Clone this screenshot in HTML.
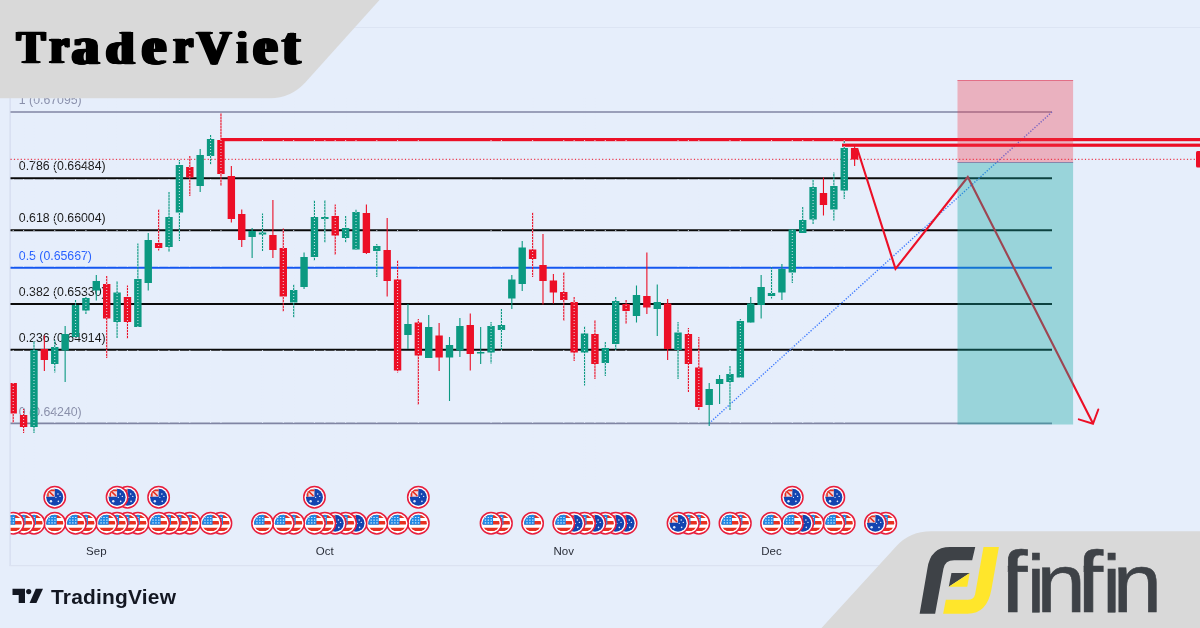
<!DOCTYPE html>
<html lang="en"><head><meta charset="utf-8"><title>TraderViet chart</title>
<style>
html,body{margin:0;padding:0;}html{width:1200px;height:628px;overflow:hidden;}
body{width:1200px;height:628px;overflow:hidden;background:#E6EEFB;position:relative;font-family:"Liberation Sans",Arial,sans-serif;}
svg{position:absolute;left:0;top:0;}
.fib{font-family:"Liberation Sans",Arial,sans-serif;font-size:12.3px;fill:#1a1a1a;}
.mon{font-family:"Liberation Sans",Arial,sans-serif;font-size:11.5px;fill:#2a2e39;text-anchor:middle;}
#tvw{position:absolute;left:51px;top:585.6px;font-family:"Liberation Sans",Arial,sans-serif;font-weight:bold;font-size:19.5px;line-height:22px;color:#131722;white-space:nowrap;letter-spacing:0.2px;transform-origin:0 0;transform:scaleX(1.072);}
</style></head><body>
<svg width="1200" height="628" viewBox="0 0 1200 628">
<clipPath id="fc"><circle cx="0" cy="0" r="8.5"/></clipPath>
<rect x="0" y="27" width="1200" height="1" fill="#DCE4F3"/>
<rect x="9.5" y="97" width="1.2" height="469" fill="#D3DBEE"/>
<rect x="9.5" y="565" width="1200" height="1.2" fill="#DBE2F1"/>
<text class="fib" x="18.8" y="104.2" style="fill:#8A90AB">1 (0.67095)</text>
<text class="fib" x="18.8" y="170.4" style="fill:#1a1a1a">0.786 (0.66484)</text>
<text class="fib" x="18.8" y="222.4" style="fill:#1a1a1a">0.618 (0.66004)</text>
<text class="fib" x="18.8" y="260.0" style="fill:#2962FF">0.5 (0.65667)</text>
<text class="fib" x="18.8" y="296.2" style="fill:#1a1a1a">0.382 (0.65330)</text>
<text class="fib" x="18.8" y="341.9" style="fill:#1a1a1a">0.236 (0.64914)</text>
<text class="fib" x="18.8" y="415.6" style="fill:#8A90AB">0 (0.64240)</text>
<line x1="10.5" y1="112.0" x2="1052.0" y2="112.0" stroke="#8085A3" stroke-width="1.6"/>
<line x1="10.5" y1="178.2" x2="1052.0" y2="178.2" stroke="#0a0a0a" stroke-width="2.0"/>
<line x1="10.5" y1="230.2" x2="1052.0" y2="230.2" stroke="#0a0a0a" stroke-width="2.0"/>
<line x1="10.5" y1="267.8" x2="1052.0" y2="267.8" stroke="#1557F0" stroke-width="2.0"/>
<line x1="10.5" y1="304.0" x2="1052.0" y2="304.0" stroke="#0a0a0a" stroke-width="2.0"/>
<line x1="10.5" y1="349.7" x2="1052.0" y2="349.7" stroke="#0a0a0a" stroke-width="2.0"/>
<line x1="10.5" y1="423.4" x2="1052.0" y2="423.4" stroke="#8085A3" stroke-width="1.6"/>
<line x1="10.5" y1="159.3" x2="1200" y2="159.3" stroke="#EC0F26" stroke-width="1" stroke-dasharray="1.2 2.2"/>
<line x1="709" y1="423.4" x2="1052" y2="112" stroke="#3F7BFF" stroke-width="1.4" stroke-dasharray="1.3 1.5"/>
<clipPath id="ck"><rect x="10.6" y="0" width="1200" height="628"/></clipPath><g clip-path="url(#ck)">
<rect x="12.65" y="383.0" width="1.1" height="40.0" fill="#EC0F26"/>
<rect x="9.50" y="383.0" width="7.4" height="30.5" fill="#EC0F26"/>
<rect x="23.04" y="409.0" width="1.1" height="24.0" fill="#EC0F26"/>
<rect x="19.89" y="415.0" width="7.4" height="12.0" fill="#EC0F26"/>
<rect x="33.43" y="341.0" width="1.1" height="92.0" fill="#0B9981"/>
<rect x="30.28" y="350.0" width="7.4" height="77.0" fill="#0B9981"/>
<rect x="43.81" y="335.5" width="1.1" height="35.5" fill="#EC0F26"/>
<rect x="40.66" y="349.0" width="7.4" height="11.0" fill="#EC0F26"/>
<rect x="54.20" y="340.0" width="1.1" height="32.5" fill="#0B9981"/>
<rect x="51.05" y="347.0" width="7.4" height="17.0" fill="#0B9981"/>
<rect x="64.59" y="326.0" width="1.1" height="56.0" fill="#0B9981"/>
<rect x="61.44" y="334.0" width="7.4" height="16.5" fill="#0B9981"/>
<rect x="74.98" y="300.0" width="1.1" height="37.0" fill="#0B9981"/>
<rect x="71.83" y="305.0" width="7.4" height="32.0" fill="#0B9981"/>
<rect x="85.37" y="297.0" width="1.1" height="17.0" fill="#0B9981"/>
<rect x="82.22" y="298.0" width="7.4" height="12.5" fill="#0B9981"/>
<rect x="95.75" y="275.0" width="1.1" height="25.5" fill="#0B9981"/>
<rect x="92.60" y="281.0" width="7.4" height="9.5" fill="#0B9981"/>
<rect x="106.14" y="276.0" width="1.1" height="82.0" fill="#EC0F26"/>
<rect x="102.99" y="284.0" width="7.4" height="34.5" fill="#EC0F26"/>
<rect x="116.53" y="281.0" width="1.1" height="57.0" fill="#0B9981"/>
<rect x="113.38" y="292.5" width="7.4" height="29.5" fill="#0B9981"/>
<rect x="126.92" y="285.5" width="1.1" height="53.5" fill="#EC0F26"/>
<rect x="123.77" y="297.0" width="7.4" height="25.0" fill="#EC0F26"/>
<rect x="137.31" y="243.5" width="1.1" height="83.5" fill="#0B9981"/>
<rect x="134.16" y="279.0" width="7.4" height="48.0" fill="#0B9981"/>
<rect x="147.69" y="233.0" width="1.1" height="57.5" fill="#0B9981"/>
<rect x="144.54" y="240.0" width="7.4" height="43.0" fill="#0B9981"/>
<rect x="158.08" y="209.0" width="1.1" height="41.5" fill="#EC0F26"/>
<rect x="154.93" y="243.0" width="7.4" height="5.0" fill="#EC0F26"/>
<rect x="168.47" y="192.0" width="1.1" height="60.0" fill="#0B9981"/>
<rect x="165.32" y="217.0" width="7.4" height="30.0" fill="#0B9981"/>
<rect x="178.86" y="160.0" width="1.1" height="81.0" fill="#0B9981"/>
<rect x="175.71" y="165.0" width="7.4" height="47.5" fill="#0B9981"/>
<rect x="189.25" y="156.0" width="1.1" height="40.0" fill="#EC0F26"/>
<rect x="186.10" y="167.0" width="7.4" height="10.5" fill="#EC0F26"/>
<rect x="199.63" y="149.0" width="1.1" height="43.0" fill="#0B9981"/>
<rect x="196.48" y="155.0" width="7.4" height="31.0" fill="#0B9981"/>
<rect x="210.02" y="135.0" width="1.1" height="29.5" fill="#0B9981"/>
<rect x="206.87" y="139.0" width="7.4" height="17.0" fill="#0B9981"/>
<rect x="220.41" y="113.0" width="1.1" height="73.0" fill="#EC0F26"/>
<rect x="217.26" y="140.0" width="7.4" height="34.0" fill="#EC0F26"/>
<rect x="230.80" y="166.0" width="1.1" height="56.5" fill="#EC0F26"/>
<rect x="227.65" y="176.0" width="7.4" height="43.0" fill="#EC0F26"/>
<rect x="241.19" y="209.5" width="1.1" height="37.5" fill="#EC0F26"/>
<rect x="238.04" y="214.0" width="7.4" height="26.0" fill="#EC0F26"/>
<rect x="251.57" y="228.0" width="1.1" height="30.0" fill="#0B9981"/>
<rect x="248.42" y="231.0" width="7.4" height="6.0" fill="#0B9981"/>
<rect x="261.96" y="213.5" width="1.1" height="37.5" fill="#0B9981"/>
<rect x="258.81" y="232.5" width="7.4" height="2.0" fill="#0B9981"/>
<rect x="272.35" y="200.0" width="1.1" height="58.0" fill="#EC0F26"/>
<rect x="269.20" y="235.0" width="7.4" height="15.0" fill="#EC0F26"/>
<rect x="282.74" y="228.5" width="1.1" height="83.0" fill="#EC0F26"/>
<rect x="279.59" y="248.0" width="7.4" height="48.5" fill="#EC0F26"/>
<rect x="293.13" y="284.5" width="1.1" height="33.0" fill="#0B9981"/>
<rect x="289.98" y="290.0" width="7.4" height="12.5" fill="#0B9981"/>
<rect x="303.51" y="252.5" width="1.1" height="36.5" fill="#0B9981"/>
<rect x="300.36" y="257.0" width="7.4" height="30.0" fill="#0B9981"/>
<rect x="313.90" y="200.0" width="1.1" height="61.0" fill="#0B9981"/>
<rect x="310.75" y="217.0" width="7.4" height="40.0" fill="#0B9981"/>
<rect x="324.29" y="200.0" width="1.1" height="42.5" fill="#0B9981"/>
<rect x="321.14" y="217.0" width="7.4" height="2.0" fill="#0B9981"/>
<rect x="334.68" y="204.5" width="1.1" height="50.5" fill="#EC0F26"/>
<rect x="331.53" y="216.0" width="7.4" height="19.5" fill="#EC0F26"/>
<rect x="345.07" y="216.0" width="1.1" height="26.5" fill="#0B9981"/>
<rect x="341.92" y="228.0" width="7.4" height="10.0" fill="#0B9981"/>
<rect x="355.45" y="209.5" width="1.1" height="40.0" fill="#0B9981"/>
<rect x="352.30" y="212.0" width="7.4" height="37.5" fill="#0B9981"/>
<rect x="365.84" y="204.5" width="1.1" height="49.5" fill="#EC0F26"/>
<rect x="362.69" y="213.0" width="7.4" height="40.0" fill="#EC0F26"/>
<rect x="376.23" y="244.0" width="1.1" height="33.0" fill="#0B9981"/>
<rect x="373.08" y="246.0" width="7.4" height="5.0" fill="#0B9981"/>
<rect x="386.62" y="218.0" width="1.1" height="78.5" fill="#EC0F26"/>
<rect x="383.47" y="250.0" width="7.4" height="31.0" fill="#EC0F26"/>
<rect x="397.01" y="260.0" width="1.1" height="112.5" fill="#EC0F26"/>
<rect x="393.86" y="279.5" width="7.4" height="91.0" fill="#EC0F26"/>
<rect x="407.39" y="304.0" width="1.1" height="45.0" fill="#0B9981"/>
<rect x="404.24" y="324.0" width="7.4" height="11.0" fill="#0B9981"/>
<rect x="417.78" y="319.0" width="1.1" height="86.0" fill="#EC0F26"/>
<rect x="414.63" y="322.5" width="7.4" height="33.0" fill="#EC0F26"/>
<rect x="428.17" y="315.0" width="1.1" height="43.0" fill="#0B9981"/>
<rect x="425.02" y="327.0" width="7.4" height="31.0" fill="#0B9981"/>
<rect x="438.56" y="323.0" width="1.1" height="48.0" fill="#EC0F26"/>
<rect x="435.41" y="335.5" width="7.4" height="22.0" fill="#EC0F26"/>
<rect x="448.95" y="337.0" width="1.1" height="64.0" fill="#0B9981"/>
<rect x="445.80" y="345.0" width="7.4" height="12.5" fill="#0B9981"/>
<rect x="459.33" y="318.0" width="1.1" height="39.0" fill="#0B9981"/>
<rect x="456.18" y="326.0" width="7.4" height="24.5" fill="#0B9981"/>
<rect x="469.72" y="313.5" width="1.1" height="57.0" fill="#EC0F26"/>
<rect x="466.57" y="325.0" width="7.4" height="29.0" fill="#EC0F26"/>
<rect x="480.11" y="327.0" width="1.1" height="37.0" fill="#0B9981"/>
<rect x="476.96" y="352.0" width="7.4" height="1.5" fill="#0B9981"/>
<rect x="490.50" y="322.0" width="1.1" height="41.5" fill="#0B9981"/>
<rect x="487.35" y="326.0" width="7.4" height="26.5" fill="#0B9981"/>
<rect x="500.89" y="309.0" width="1.1" height="41.0" fill="#0B9981"/>
<rect x="497.74" y="325.0" width="7.4" height="5.0" fill="#0B9981"/>
<rect x="511.27" y="275.0" width="1.1" height="34.0" fill="#0B9981"/>
<rect x="508.12" y="279.5" width="7.4" height="19.0" fill="#0B9981"/>
<rect x="521.66" y="241.0" width="1.1" height="50.0" fill="#0B9981"/>
<rect x="518.51" y="247.5" width="7.4" height="36.5" fill="#0B9981"/>
<rect x="532.05" y="212.5" width="1.1" height="64.5" fill="#EC0F26"/>
<rect x="528.90" y="249.5" width="7.4" height="9.5" fill="#EC0F26"/>
<rect x="542.44" y="234.0" width="1.1" height="70.5" fill="#EC0F26"/>
<rect x="539.29" y="265.0" width="7.4" height="16.0" fill="#EC0F26"/>
<rect x="552.83" y="274.0" width="1.1" height="29.5" fill="#EC0F26"/>
<rect x="549.68" y="280.5" width="7.4" height="12.0" fill="#EC0F26"/>
<rect x="563.21" y="272.0" width="1.1" height="49.0" fill="#EC0F26"/>
<rect x="560.06" y="292.0" width="7.4" height="8.0" fill="#EC0F26"/>
<rect x="573.60" y="297.0" width="1.1" height="64.0" fill="#EC0F26"/>
<rect x="570.45" y="302.0" width="7.4" height="50.5" fill="#EC0F26"/>
<rect x="583.99" y="326.0" width="1.1" height="59.5" fill="#0B9981"/>
<rect x="580.84" y="333.5" width="7.4" height="19.0" fill="#0B9981"/>
<rect x="594.38" y="320.0" width="1.1" height="59.0" fill="#EC0F26"/>
<rect x="591.23" y="334.0" width="7.4" height="30.0" fill="#EC0F26"/>
<rect x="604.77" y="342.0" width="1.1" height="34.0" fill="#0B9981"/>
<rect x="601.62" y="348.0" width="7.4" height="15.0" fill="#0B9981"/>
<rect x="615.15" y="297.0" width="1.1" height="53.0" fill="#0B9981"/>
<rect x="612.00" y="301.0" width="7.4" height="43.0" fill="#0B9981"/>
<rect x="625.54" y="300.0" width="1.1" height="24.0" fill="#EC0F26"/>
<rect x="622.39" y="304.0" width="7.4" height="7.0" fill="#EC0F26"/>
<rect x="635.93" y="285.5" width="1.1" height="37.0" fill="#0B9981"/>
<rect x="632.78" y="295.0" width="7.4" height="21.0" fill="#0B9981"/>
<rect x="646.32" y="252.5" width="1.1" height="61.5" fill="#EC0F26"/>
<rect x="643.17" y="296.0" width="7.4" height="11.5" fill="#EC0F26"/>
<rect x="656.71" y="284.5" width="1.1" height="51.5" fill="#0B9981"/>
<rect x="653.56" y="302.0" width="7.4" height="7.0" fill="#0B9981"/>
<rect x="667.09" y="299.0" width="1.1" height="61.0" fill="#EC0F26"/>
<rect x="663.94" y="303.5" width="7.4" height="45.5" fill="#EC0F26"/>
<rect x="677.48" y="322.0" width="1.1" height="57.0" fill="#0B9981"/>
<rect x="674.33" y="332.5" width="7.4" height="17.5" fill="#0B9981"/>
<rect x="687.87" y="328.0" width="1.1" height="64.0" fill="#EC0F26"/>
<rect x="684.72" y="334.0" width="7.4" height="30.0" fill="#EC0F26"/>
<rect x="698.26" y="337.0" width="1.1" height="73.0" fill="#EC0F26"/>
<rect x="695.11" y="367.5" width="7.4" height="39.5" fill="#EC0F26"/>
<rect x="708.65" y="383.0" width="1.1" height="43.0" fill="#0B9981"/>
<rect x="705.50" y="389.0" width="7.4" height="16.0" fill="#0B9981"/>
<rect x="719.03" y="375.0" width="1.1" height="29.0" fill="#0B9981"/>
<rect x="715.88" y="379.0" width="7.4" height="5.0" fill="#0B9981"/>
<rect x="729.42" y="366.0" width="1.1" height="44.0" fill="#0B9981"/>
<rect x="726.27" y="374.0" width="7.4" height="8.0" fill="#0B9981"/>
<rect x="739.81" y="319.0" width="1.1" height="58.5" fill="#0B9981"/>
<rect x="736.66" y="321.0" width="7.4" height="56.5" fill="#0B9981"/>
<rect x="750.20" y="297.0" width="1.1" height="25.5" fill="#0B9981"/>
<rect x="747.05" y="303.5" width="7.4" height="19.0" fill="#0B9981"/>
<rect x="760.59" y="275.0" width="1.1" height="43.5" fill="#0B9981"/>
<rect x="757.44" y="287.0" width="7.4" height="18.0" fill="#0B9981"/>
<rect x="770.97" y="267.5" width="1.1" height="31.0" fill="#0B9981"/>
<rect x="767.82" y="293.0" width="7.4" height="3.0" fill="#0B9981"/>
<rect x="781.36" y="264.0" width="1.1" height="36.0" fill="#0B9981"/>
<rect x="778.21" y="269.0" width="7.4" height="23.5" fill="#0B9981"/>
<rect x="791.75" y="229.5" width="1.1" height="53.5" fill="#0B9981"/>
<rect x="788.60" y="229.5" width="7.4" height="43.0" fill="#0B9981"/>
<rect x="802.14" y="207.0" width="1.1" height="26.0" fill="#0B9981"/>
<rect x="798.99" y="220.0" width="7.4" height="13.0" fill="#0B9981"/>
<rect x="812.53" y="179.0" width="1.1" height="45.0" fill="#0B9981"/>
<rect x="809.38" y="187.0" width="7.4" height="32.5" fill="#0B9981"/>
<rect x="822.91" y="177.5" width="1.1" height="38.0" fill="#EC0F26"/>
<rect x="819.76" y="193.0" width="7.4" height="12.0" fill="#EC0F26"/>
<rect x="833.30" y="172.5" width="1.1" height="48.0" fill="#0B9981"/>
<rect x="830.15" y="186.0" width="7.4" height="23.5" fill="#0B9981"/>
<rect x="843.69" y="139.0" width="1.1" height="60.0" fill="#0B9981"/>
<rect x="840.54" y="148.0" width="7.4" height="42.5" fill="#0B9981"/>
<rect x="854.08" y="145.5" width="1.1" height="20.5" fill="#EC0F26"/>
<rect x="850.93" y="148.0" width="7.4" height="11.5" fill="#EC0F26"/>
</g>
<rect x="221" y="138" width="979" height="3.2" fill="#EC0F26"/>
<rect x="842" y="143.6" width="358" height="3.2" fill="#EC0F26"/>
<rect x="1196" y="151" width="6" height="16.5" rx="1.5" fill="#EC0F26"/>
<polyline points="857.5,149.5 895.5,268.8 967.8,177 1093,423.6" fill="none" stroke="#EC0F26" stroke-width="2.1" stroke-linejoin="miter"/>
<polyline points="1078.8,419.4 1093,423.8 1098.3,409.5" fill="none" stroke="#EC0F26" stroke-width="2" stroke-linecap="round"/>
<rect x="957.5" y="80" width="115.6" height="82.5" fill="#F23645" fill-opacity="0.33"/>
<rect x="957.5" y="162.5" width="115.6" height="262" fill="#10A5A0" fill-opacity="0.36"/>
<rect x="957.5" y="80" width="115.6" height="0.8" fill="#E0607A"/>
<rect x="957.5" y="162" width="115.6" height="0.9" fill="#7F7FA6"/>
<line x1="13.20" y1="98" x2="13.20" y2="480" stroke="#E6EEFB" stroke-width="1.1" stroke-dasharray="1 2" stroke-opacity="0.8"/>
<line x1="23.59" y1="98" x2="23.59" y2="480" stroke="#E6EEFB" stroke-width="1.1" stroke-dasharray="1 2" stroke-opacity="0.8"/>
<line x1="33.98" y1="98" x2="33.98" y2="480" stroke="#E6EEFB" stroke-width="1.1" stroke-dasharray="1 2" stroke-opacity="0.8"/>
<line x1="54.75" y1="98" x2="54.75" y2="480" stroke="#E6EEFB" stroke-width="1.1" stroke-dasharray="1 2" stroke-opacity="0.8"/>
<line x1="75.53" y1="98" x2="75.53" y2="480" stroke="#E6EEFB" stroke-width="1.1" stroke-dasharray="1 2" stroke-opacity="0.8"/>
<line x1="85.92" y1="98" x2="85.92" y2="480" stroke="#E6EEFB" stroke-width="1.1" stroke-dasharray="1 2" stroke-opacity="0.8"/>
<line x1="106.69" y1="98" x2="106.69" y2="480" stroke="#E6EEFB" stroke-width="1.1" stroke-dasharray="1 2" stroke-opacity="0.8"/>
<line x1="117.08" y1="98" x2="117.08" y2="480" stroke="#E6EEFB" stroke-width="1.1" stroke-dasharray="1 2" stroke-opacity="0.8"/>
<line x1="127.47" y1="98" x2="127.47" y2="480" stroke="#E6EEFB" stroke-width="1.1" stroke-dasharray="1 2" stroke-opacity="0.8"/>
<line x1="137.86" y1="98" x2="137.86" y2="480" stroke="#E6EEFB" stroke-width="1.1" stroke-dasharray="1 2" stroke-opacity="0.8"/>
<line x1="158.63" y1="98" x2="158.63" y2="480" stroke="#E6EEFB" stroke-width="1.1" stroke-dasharray="1 2" stroke-opacity="0.8"/>
<line x1="169.02" y1="98" x2="169.02" y2="480" stroke="#E6EEFB" stroke-width="1.1" stroke-dasharray="1 2" stroke-opacity="0.8"/>
<line x1="179.41" y1="98" x2="179.41" y2="480" stroke="#E6EEFB" stroke-width="1.1" stroke-dasharray="1 2" stroke-opacity="0.8"/>
<line x1="189.80" y1="98" x2="189.80" y2="480" stroke="#E6EEFB" stroke-width="1.1" stroke-dasharray="1 2" stroke-opacity="0.8"/>
<line x1="210.57" y1="98" x2="210.57" y2="480" stroke="#E6EEFB" stroke-width="1.1" stroke-dasharray="1 2" stroke-opacity="0.8"/>
<line x1="220.96" y1="98" x2="220.96" y2="480" stroke="#E6EEFB" stroke-width="1.1" stroke-dasharray="1 2" stroke-opacity="0.8"/>
<line x1="262.51" y1="98" x2="262.51" y2="480" stroke="#E6EEFB" stroke-width="1.1" stroke-dasharray="1 2" stroke-opacity="0.8"/>
<line x1="283.29" y1="98" x2="283.29" y2="480" stroke="#E6EEFB" stroke-width="1.1" stroke-dasharray="1 2" stroke-opacity="0.8"/>
<line x1="293.68" y1="98" x2="293.68" y2="480" stroke="#E6EEFB" stroke-width="1.1" stroke-dasharray="1 2" stroke-opacity="0.8"/>
<line x1="314.45" y1="98" x2="314.45" y2="480" stroke="#E6EEFB" stroke-width="1.1" stroke-dasharray="1 2" stroke-opacity="0.8"/>
<line x1="324.84" y1="98" x2="324.84" y2="480" stroke="#E6EEFB" stroke-width="1.1" stroke-dasharray="1 2" stroke-opacity="0.8"/>
<line x1="335.23" y1="98" x2="335.23" y2="480" stroke="#E6EEFB" stroke-width="1.1" stroke-dasharray="1 2" stroke-opacity="0.8"/>
<line x1="345.62" y1="98" x2="345.62" y2="480" stroke="#E6EEFB" stroke-width="1.1" stroke-dasharray="1 2" stroke-opacity="0.8"/>
<line x1="356.00" y1="98" x2="356.00" y2="480" stroke="#E6EEFB" stroke-width="1.1" stroke-dasharray="1 2" stroke-opacity="0.8"/>
<line x1="376.78" y1="98" x2="376.78" y2="480" stroke="#E6EEFB" stroke-width="1.1" stroke-dasharray="1 2" stroke-opacity="0.8"/>
<line x1="397.56" y1="98" x2="397.56" y2="480" stroke="#E6EEFB" stroke-width="1.1" stroke-dasharray="1 2" stroke-opacity="0.8"/>
<line x1="418.33" y1="98" x2="418.33" y2="480" stroke="#E6EEFB" stroke-width="1.1" stroke-dasharray="1 2" stroke-opacity="0.8"/>
<line x1="491.05" y1="98" x2="491.05" y2="480" stroke="#E6EEFB" stroke-width="1.1" stroke-dasharray="1 2" stroke-opacity="0.8"/>
<line x1="501.44" y1="98" x2="501.44" y2="480" stroke="#E6EEFB" stroke-width="1.1" stroke-dasharray="1 2" stroke-opacity="0.8"/>
<line x1="532.60" y1="98" x2="532.60" y2="480" stroke="#E6EEFB" stroke-width="1.1" stroke-dasharray="1 2" stroke-opacity="0.8"/>
<line x1="563.76" y1="98" x2="563.76" y2="480" stroke="#E6EEFB" stroke-width="1.1" stroke-dasharray="1 2" stroke-opacity="0.8"/>
<line x1="574.15" y1="98" x2="574.15" y2="480" stroke="#E6EEFB" stroke-width="1.1" stroke-dasharray="1 2" stroke-opacity="0.8"/>
<line x1="584.54" y1="98" x2="584.54" y2="480" stroke="#E6EEFB" stroke-width="1.1" stroke-dasharray="1 2" stroke-opacity="0.8"/>
<line x1="594.93" y1="98" x2="594.93" y2="480" stroke="#E6EEFB" stroke-width="1.1" stroke-dasharray="1 2" stroke-opacity="0.8"/>
<line x1="605.32" y1="98" x2="605.32" y2="480" stroke="#E6EEFB" stroke-width="1.1" stroke-dasharray="1 2" stroke-opacity="0.8"/>
<line x1="615.70" y1="98" x2="615.70" y2="480" stroke="#E6EEFB" stroke-width="1.1" stroke-dasharray="1 2" stroke-opacity="0.8"/>
<line x1="626.09" y1="98" x2="626.09" y2="480" stroke="#E6EEFB" stroke-width="1.1" stroke-dasharray="1 2" stroke-opacity="0.8"/>
<line x1="678.03" y1="98" x2="678.03" y2="480" stroke="#E6EEFB" stroke-width="1.1" stroke-dasharray="1 2" stroke-opacity="0.8"/>
<line x1="688.42" y1="98" x2="688.42" y2="480" stroke="#E6EEFB" stroke-width="1.1" stroke-dasharray="1 2" stroke-opacity="0.8"/>
<line x1="698.81" y1="98" x2="698.81" y2="480" stroke="#E6EEFB" stroke-width="1.1" stroke-dasharray="1 2" stroke-opacity="0.8"/>
<line x1="729.97" y1="98" x2="729.97" y2="480" stroke="#E6EEFB" stroke-width="1.1" stroke-dasharray="1 2" stroke-opacity="0.8"/>
<line x1="740.36" y1="98" x2="740.36" y2="480" stroke="#E6EEFB" stroke-width="1.1" stroke-dasharray="1 2" stroke-opacity="0.8"/>
<line x1="771.52" y1="98" x2="771.52" y2="480" stroke="#E6EEFB" stroke-width="1.1" stroke-dasharray="1 2" stroke-opacity="0.8"/>
<line x1="792.30" y1="98" x2="792.30" y2="480" stroke="#E6EEFB" stroke-width="1.1" stroke-dasharray="1 2" stroke-opacity="0.8"/>
<line x1="802.69" y1="98" x2="802.69" y2="480" stroke="#E6EEFB" stroke-width="1.1" stroke-dasharray="1 2" stroke-opacity="0.8"/>
<line x1="813.08" y1="98" x2="813.08" y2="480" stroke="#E6EEFB" stroke-width="1.1" stroke-dasharray="1 2" stroke-opacity="0.8"/>
<line x1="833.85" y1="98" x2="833.85" y2="480" stroke="#E6EEFB" stroke-width="1.1" stroke-dasharray="1 2" stroke-opacity="0.8"/>
<line x1="844.24" y1="98" x2="844.24" y2="480" stroke="#E6EEFB" stroke-width="1.1" stroke-dasharray="1 2" stroke-opacity="0.8"/>
<clipPath id="cc"><rect x="10.6" y="480" width="1200" height="60"/></clipPath>
<g clip-path="url(#cc)">
<g transform="translate(885.79,523.2)"><circle r="10.7" fill="#fff" stroke="#E81E3C" stroke-width="1.5"/><g clip-path="url(#fc)"><path d="M-9,-7H9M-9,-0.4H9M-9,6.2H9" stroke="#E8311F" stroke-width="3.4"/><path d="M-9,-9H2V1.6H-9Z" fill="#1E88E5"/><path d="M-6.3,-5.7H1M-6.3,-3H1M-6.3,-0.3H1" stroke="#cfe6fb" stroke-width="1.2" stroke-dasharray="1.4 1.5"/></g></g>
<g transform="translate(875.40,523.2)"><circle r="10.7" fill="#fff" stroke="#E81E3C" stroke-width="1.5"/><g clip-path="url(#fc)"><path d="M-9,-9H9V9H-9Z" fill="#1344B0"/><path d="M-9,-9H0V-0.5H-9Z" fill="#f2d6dc"/><path d="M-9,-6.8H0M-6.8,-9V-0.5M-6,-6L-1,-1.2" stroke="#E8311F" stroke-width="1.6" fill="none"/><g fill="#dfe8fa"><circle cx="-3.8" cy="4" r="1.2"/><circle cx="3.2" cy="-3.2" r="0.8"/><circle cx="5.3" cy="-0.8" r="0.7"/><circle cx="3.6" cy="4.2" r="0.8"/><circle cx="1.2" cy="0.2" r="0.6"/></g></g></g>
<g transform="translate(844.24,523.2)"><circle r="10.7" fill="#fff" stroke="#E81E3C" stroke-width="1.5"/><g clip-path="url(#fc)"><path d="M-9,-7H9M-9,-0.4H9M-9,6.2H9" stroke="#E8311F" stroke-width="3.4"/><path d="M-9,-9H2V1.6H-9Z" fill="#1E88E5"/><path d="M-6.3,-5.7H1M-6.3,-3H1M-6.3,-0.3H1" stroke="#cfe6fb" stroke-width="1.2" stroke-dasharray="1.4 1.5"/></g></g>
<g transform="translate(833.85,523.2)"><circle r="10.7" fill="#fff" stroke="#E81E3C" stroke-width="1.5"/><g clip-path="url(#fc)"><path d="M-9,-7H9M-9,-0.4H9M-9,6.2H9" stroke="#E8311F" stroke-width="3.4"/><path d="M-9,-9H2V1.6H-9Z" fill="#1E88E5"/><path d="M-6.3,-5.7H1M-6.3,-3H1M-6.3,-0.3H1" stroke="#cfe6fb" stroke-width="1.2" stroke-dasharray="1.4 1.5"/></g></g>
<g transform="translate(813.08,523.2)"><circle r="10.7" fill="#fff" stroke="#E81E3C" stroke-width="1.5"/><g clip-path="url(#fc)"><path d="M-9,-7H9M-9,-0.4H9M-9,6.2H9" stroke="#E8311F" stroke-width="3.4"/><path d="M-9,-9H2V1.6H-9Z" fill="#1E88E5"/><path d="M-6.3,-5.7H1M-6.3,-3H1M-6.3,-0.3H1" stroke="#cfe6fb" stroke-width="1.2" stroke-dasharray="1.4 1.5"/></g></g>
<g transform="translate(802.69,523.2)"><circle r="10.7" fill="#fff" stroke="#E81E3C" stroke-width="1.5"/><g clip-path="url(#fc)"><path d="M-9,-9H9V9H-9Z" fill="#1344B0"/><path d="M-9,-9H0V-0.5H-9Z" fill="#f2d6dc"/><path d="M-9,-6.8H0M-6.8,-9V-0.5M-6,-6L-1,-1.2" stroke="#E8311F" stroke-width="1.6" fill="none"/><g fill="#dfe8fa"><circle cx="-3.8" cy="4" r="1.2"/><circle cx="3.2" cy="-3.2" r="0.8"/><circle cx="5.3" cy="-0.8" r="0.7"/><circle cx="3.6" cy="4.2" r="0.8"/><circle cx="1.2" cy="0.2" r="0.6"/></g></g></g>
<g transform="translate(792.30,523.2)"><circle r="10.7" fill="#fff" stroke="#E81E3C" stroke-width="1.5"/><g clip-path="url(#fc)"><path d="M-9,-7H9M-9,-0.4H9M-9,6.2H9" stroke="#E8311F" stroke-width="3.4"/><path d="M-9,-9H2V1.6H-9Z" fill="#1E88E5"/><path d="M-6.3,-5.7H1M-6.3,-3H1M-6.3,-0.3H1" stroke="#cfe6fb" stroke-width="1.2" stroke-dasharray="1.4 1.5"/></g></g>
<g transform="translate(771.52,523.2)"><circle r="10.7" fill="#fff" stroke="#E81E3C" stroke-width="1.5"/><g clip-path="url(#fc)"><path d="M-9,-7H9M-9,-0.4H9M-9,6.2H9" stroke="#E8311F" stroke-width="3.4"/><path d="M-9,-9H2V1.6H-9Z" fill="#1E88E5"/><path d="M-6.3,-5.7H1M-6.3,-3H1M-6.3,-0.3H1" stroke="#cfe6fb" stroke-width="1.2" stroke-dasharray="1.4 1.5"/></g></g>
<g transform="translate(740.36,523.2)"><circle r="10.7" fill="#fff" stroke="#E81E3C" stroke-width="1.5"/><g clip-path="url(#fc)"><path d="M-9,-7H9M-9,-0.4H9M-9,6.2H9" stroke="#E8311F" stroke-width="3.4"/><path d="M-9,-9H2V1.6H-9Z" fill="#1E88E5"/><path d="M-6.3,-5.7H1M-6.3,-3H1M-6.3,-0.3H1" stroke="#cfe6fb" stroke-width="1.2" stroke-dasharray="1.4 1.5"/></g></g>
<g transform="translate(729.97,523.2)"><circle r="10.7" fill="#fff" stroke="#E81E3C" stroke-width="1.5"/><g clip-path="url(#fc)"><path d="M-9,-7H9M-9,-0.4H9M-9,6.2H9" stroke="#E8311F" stroke-width="3.4"/><path d="M-9,-9H2V1.6H-9Z" fill="#1E88E5"/><path d="M-6.3,-5.7H1M-6.3,-3H1M-6.3,-0.3H1" stroke="#cfe6fb" stroke-width="1.2" stroke-dasharray="1.4 1.5"/></g></g>
<g transform="translate(698.81,523.2)"><circle r="10.7" fill="#fff" stroke="#E81E3C" stroke-width="1.5"/><g clip-path="url(#fc)"><path d="M-9,-7H9M-9,-0.4H9M-9,6.2H9" stroke="#E8311F" stroke-width="3.4"/><path d="M-9,-9H2V1.6H-9Z" fill="#1E88E5"/><path d="M-6.3,-5.7H1M-6.3,-3H1M-6.3,-0.3H1" stroke="#cfe6fb" stroke-width="1.2" stroke-dasharray="1.4 1.5"/></g></g>
<g transform="translate(688.42,523.2)"><circle r="10.7" fill="#fff" stroke="#E81E3C" stroke-width="1.5"/><g clip-path="url(#fc)"><path d="M-9,-7H9M-9,-0.4H9M-9,6.2H9" stroke="#E8311F" stroke-width="3.4"/><path d="M-9,-9H2V1.6H-9Z" fill="#1E88E5"/><path d="M-6.3,-5.7H1M-6.3,-3H1M-6.3,-0.3H1" stroke="#cfe6fb" stroke-width="1.2" stroke-dasharray="1.4 1.5"/></g></g>
<g transform="translate(678.03,523.2)"><circle r="10.7" fill="#fff" stroke="#E81E3C" stroke-width="1.5"/><g clip-path="url(#fc)"><path d="M-9,-9H9V9H-9Z" fill="#1344B0"/><path d="M-9,-9H0V-0.5H-9Z" fill="#f2d6dc"/><path d="M-9,-6.8H0M-6.8,-9V-0.5M-6,-6L-1,-1.2" stroke="#E8311F" stroke-width="1.6" fill="none"/><g fill="#dfe8fa"><circle cx="-3.8" cy="4" r="1.2"/><circle cx="3.2" cy="-3.2" r="0.8"/><circle cx="5.3" cy="-0.8" r="0.7"/><circle cx="3.6" cy="4.2" r="0.8"/><circle cx="1.2" cy="0.2" r="0.6"/></g></g></g>
<g transform="translate(626.09,523.2)"><circle r="10.7" fill="#fff" stroke="#E81E3C" stroke-width="1.5"/><g clip-path="url(#fc)"><path d="M-9,-9H9V9H-9Z" fill="#1344B0"/><path d="M-9,-9H0V-0.5H-9Z" fill="#f2d6dc"/><path d="M-9,-6.8H0M-6.8,-9V-0.5M-6,-6L-1,-1.2" stroke="#E8311F" stroke-width="1.6" fill="none"/><g fill="#dfe8fa"><circle cx="-3.8" cy="4" r="1.2"/><circle cx="3.2" cy="-3.2" r="0.8"/><circle cx="5.3" cy="-0.8" r="0.7"/><circle cx="3.6" cy="4.2" r="0.8"/><circle cx="1.2" cy="0.2" r="0.6"/></g></g></g>
<g transform="translate(615.70,523.2)"><circle r="10.7" fill="#fff" stroke="#E81E3C" stroke-width="1.5"/><g clip-path="url(#fc)"><path d="M-9,-9H9V9H-9Z" fill="#1344B0"/><path d="M-9,-9H0V-0.5H-9Z" fill="#f2d6dc"/><path d="M-9,-6.8H0M-6.8,-9V-0.5M-6,-6L-1,-1.2" stroke="#E8311F" stroke-width="1.6" fill="none"/><g fill="#dfe8fa"><circle cx="-3.8" cy="4" r="1.2"/><circle cx="3.2" cy="-3.2" r="0.8"/><circle cx="5.3" cy="-0.8" r="0.7"/><circle cx="3.6" cy="4.2" r="0.8"/><circle cx="1.2" cy="0.2" r="0.6"/></g></g></g>
<g transform="translate(605.32,523.2)"><circle r="10.7" fill="#fff" stroke="#E81E3C" stroke-width="1.5"/><g clip-path="url(#fc)"><path d="M-9,-7H9M-9,-0.4H9M-9,6.2H9" stroke="#E8311F" stroke-width="3.4"/><path d="M-9,-9H2V1.6H-9Z" fill="#1E88E5"/><path d="M-6.3,-5.7H1M-6.3,-3H1M-6.3,-0.3H1" stroke="#cfe6fb" stroke-width="1.2" stroke-dasharray="1.4 1.5"/></g></g>
<g transform="translate(594.93,523.2)"><circle r="10.7" fill="#fff" stroke="#E81E3C" stroke-width="1.5"/><g clip-path="url(#fc)"><path d="M-9,-9H9V9H-9Z" fill="#1344B0"/><path d="M-9,-9H0V-0.5H-9Z" fill="#f2d6dc"/><path d="M-9,-6.8H0M-6.8,-9V-0.5M-6,-6L-1,-1.2" stroke="#E8311F" stroke-width="1.6" fill="none"/><g fill="#dfe8fa"><circle cx="-3.8" cy="4" r="1.2"/><circle cx="3.2" cy="-3.2" r="0.8"/><circle cx="5.3" cy="-0.8" r="0.7"/><circle cx="3.6" cy="4.2" r="0.8"/><circle cx="1.2" cy="0.2" r="0.6"/></g></g></g>
<g transform="translate(584.54,523.2)"><circle r="10.7" fill="#fff" stroke="#E81E3C" stroke-width="1.5"/><g clip-path="url(#fc)"><path d="M-9,-7H9M-9,-0.4H9M-9,6.2H9" stroke="#E8311F" stroke-width="3.4"/><path d="M-9,-9H2V1.6H-9Z" fill="#1E88E5"/><path d="M-6.3,-5.7H1M-6.3,-3H1M-6.3,-0.3H1" stroke="#cfe6fb" stroke-width="1.2" stroke-dasharray="1.4 1.5"/></g></g>
<g transform="translate(574.15,523.2)"><circle r="10.7" fill="#fff" stroke="#E81E3C" stroke-width="1.5"/><g clip-path="url(#fc)"><path d="M-9,-9H9V9H-9Z" fill="#1344B0"/><path d="M-9,-9H0V-0.5H-9Z" fill="#f2d6dc"/><path d="M-9,-6.8H0M-6.8,-9V-0.5M-6,-6L-1,-1.2" stroke="#E8311F" stroke-width="1.6" fill="none"/><g fill="#dfe8fa"><circle cx="-3.8" cy="4" r="1.2"/><circle cx="3.2" cy="-3.2" r="0.8"/><circle cx="5.3" cy="-0.8" r="0.7"/><circle cx="3.6" cy="4.2" r="0.8"/><circle cx="1.2" cy="0.2" r="0.6"/></g></g></g>
<g transform="translate(563.76,523.2)"><circle r="10.7" fill="#fff" stroke="#E81E3C" stroke-width="1.5"/><g clip-path="url(#fc)"><path d="M-9,-7H9M-9,-0.4H9M-9,6.2H9" stroke="#E8311F" stroke-width="3.4"/><path d="M-9,-9H2V1.6H-9Z" fill="#1E88E5"/><path d="M-6.3,-5.7H1M-6.3,-3H1M-6.3,-0.3H1" stroke="#cfe6fb" stroke-width="1.2" stroke-dasharray="1.4 1.5"/></g></g>
<g transform="translate(532.60,523.2)"><circle r="10.7" fill="#fff" stroke="#E81E3C" stroke-width="1.5"/><g clip-path="url(#fc)"><path d="M-9,-7H9M-9,-0.4H9M-9,6.2H9" stroke="#E8311F" stroke-width="3.4"/><path d="M-9,-9H2V1.6H-9Z" fill="#1E88E5"/><path d="M-6.3,-5.7H1M-6.3,-3H1M-6.3,-0.3H1" stroke="#cfe6fb" stroke-width="1.2" stroke-dasharray="1.4 1.5"/></g></g>
<g transform="translate(501.44,523.2)"><circle r="10.7" fill="#fff" stroke="#E81E3C" stroke-width="1.5"/><g clip-path="url(#fc)"><path d="M-9,-7H9M-9,-0.4H9M-9,6.2H9" stroke="#E8311F" stroke-width="3.4"/><path d="M-9,-9H2V1.6H-9Z" fill="#1E88E5"/><path d="M-6.3,-5.7H1M-6.3,-3H1M-6.3,-0.3H1" stroke="#cfe6fb" stroke-width="1.2" stroke-dasharray="1.4 1.5"/></g></g>
<g transform="translate(491.05,523.2)"><circle r="10.7" fill="#fff" stroke="#E81E3C" stroke-width="1.5"/><g clip-path="url(#fc)"><path d="M-9,-7H9M-9,-0.4H9M-9,6.2H9" stroke="#E8311F" stroke-width="3.4"/><path d="M-9,-9H2V1.6H-9Z" fill="#1E88E5"/><path d="M-6.3,-5.7H1M-6.3,-3H1M-6.3,-0.3H1" stroke="#cfe6fb" stroke-width="1.2" stroke-dasharray="1.4 1.5"/></g></g>
<g transform="translate(418.33,523.2)"><circle r="10.7" fill="#fff" stroke="#E81E3C" stroke-width="1.5"/><g clip-path="url(#fc)"><path d="M-9,-7H9M-9,-0.4H9M-9,6.2H9" stroke="#E8311F" stroke-width="3.4"/><path d="M-9,-9H2V1.6H-9Z" fill="#1E88E5"/><path d="M-6.3,-5.7H1M-6.3,-3H1M-6.3,-0.3H1" stroke="#cfe6fb" stroke-width="1.2" stroke-dasharray="1.4 1.5"/></g></g>
<g transform="translate(397.56,523.2)"><circle r="10.7" fill="#fff" stroke="#E81E3C" stroke-width="1.5"/><g clip-path="url(#fc)"><path d="M-9,-7H9M-9,-0.4H9M-9,6.2H9" stroke="#E8311F" stroke-width="3.4"/><path d="M-9,-9H2V1.6H-9Z" fill="#1E88E5"/><path d="M-6.3,-5.7H1M-6.3,-3H1M-6.3,-0.3H1" stroke="#cfe6fb" stroke-width="1.2" stroke-dasharray="1.4 1.5"/></g></g>
<g transform="translate(376.78,523.2)"><circle r="10.7" fill="#fff" stroke="#E81E3C" stroke-width="1.5"/><g clip-path="url(#fc)"><path d="M-9,-7H9M-9,-0.4H9M-9,6.2H9" stroke="#E8311F" stroke-width="3.4"/><path d="M-9,-9H2V1.6H-9Z" fill="#1E88E5"/><path d="M-6.3,-5.7H1M-6.3,-3H1M-6.3,-0.3H1" stroke="#cfe6fb" stroke-width="1.2" stroke-dasharray="1.4 1.5"/></g></g>
<g transform="translate(356.00,523.2)"><circle r="10.7" fill="#fff" stroke="#E81E3C" stroke-width="1.5"/><g clip-path="url(#fc)"><path d="M-9,-9H9V9H-9Z" fill="#1344B0"/><path d="M-9,-9H0V-0.5H-9Z" fill="#f2d6dc"/><path d="M-9,-6.8H0M-6.8,-9V-0.5M-6,-6L-1,-1.2" stroke="#E8311F" stroke-width="1.6" fill="none"/><g fill="#dfe8fa"><circle cx="-3.8" cy="4" r="1.2"/><circle cx="3.2" cy="-3.2" r="0.8"/><circle cx="5.3" cy="-0.8" r="0.7"/><circle cx="3.6" cy="4.2" r="0.8"/><circle cx="1.2" cy="0.2" r="0.6"/></g></g></g>
<g transform="translate(345.62,523.2)"><circle r="10.7" fill="#fff" stroke="#E81E3C" stroke-width="1.5"/><g clip-path="url(#fc)"><path d="M-9,-7H9M-9,-0.4H9M-9,6.2H9" stroke="#E8311F" stroke-width="3.4"/><path d="M-9,-9H2V1.6H-9Z" fill="#1E88E5"/><path d="M-6.3,-5.7H1M-6.3,-3H1M-6.3,-0.3H1" stroke="#cfe6fb" stroke-width="1.2" stroke-dasharray="1.4 1.5"/></g></g>
<g transform="translate(335.23,523.2)"><circle r="10.7" fill="#fff" stroke="#E81E3C" stroke-width="1.5"/><g clip-path="url(#fc)"><path d="M-9,-9H9V9H-9Z" fill="#1344B0"/><path d="M-9,-9H0V-0.5H-9Z" fill="#f2d6dc"/><path d="M-9,-6.8H0M-6.8,-9V-0.5M-6,-6L-1,-1.2" stroke="#E8311F" stroke-width="1.6" fill="none"/><g fill="#dfe8fa"><circle cx="-3.8" cy="4" r="1.2"/><circle cx="3.2" cy="-3.2" r="0.8"/><circle cx="5.3" cy="-0.8" r="0.7"/><circle cx="3.6" cy="4.2" r="0.8"/><circle cx="1.2" cy="0.2" r="0.6"/></g></g></g>
<g transform="translate(324.84,523.2)"><circle r="10.7" fill="#fff" stroke="#E81E3C" stroke-width="1.5"/><g clip-path="url(#fc)"><path d="M-9,-7H9M-9,-0.4H9M-9,6.2H9" stroke="#E8311F" stroke-width="3.4"/><path d="M-9,-9H2V1.6H-9Z" fill="#1E88E5"/><path d="M-6.3,-5.7H1M-6.3,-3H1M-6.3,-0.3H1" stroke="#cfe6fb" stroke-width="1.2" stroke-dasharray="1.4 1.5"/></g></g>
<g transform="translate(314.45,523.2)"><circle r="10.7" fill="#fff" stroke="#E81E3C" stroke-width="1.5"/><g clip-path="url(#fc)"><path d="M-9,-7H9M-9,-0.4H9M-9,6.2H9" stroke="#E8311F" stroke-width="3.4"/><path d="M-9,-9H2V1.6H-9Z" fill="#1E88E5"/><path d="M-6.3,-5.7H1M-6.3,-3H1M-6.3,-0.3H1" stroke="#cfe6fb" stroke-width="1.2" stroke-dasharray="1.4 1.5"/></g></g>
<g transform="translate(293.68,523.2)"><circle r="10.7" fill="#fff" stroke="#E81E3C" stroke-width="1.5"/><g clip-path="url(#fc)"><path d="M-9,-7H9M-9,-0.4H9M-9,6.2H9" stroke="#E8311F" stroke-width="3.4"/><path d="M-9,-9H2V1.6H-9Z" fill="#1E88E5"/><path d="M-6.3,-5.7H1M-6.3,-3H1M-6.3,-0.3H1" stroke="#cfe6fb" stroke-width="1.2" stroke-dasharray="1.4 1.5"/></g></g>
<g transform="translate(283.29,523.2)"><circle r="10.7" fill="#fff" stroke="#E81E3C" stroke-width="1.5"/><g clip-path="url(#fc)"><path d="M-9,-7H9M-9,-0.4H9M-9,6.2H9" stroke="#E8311F" stroke-width="3.4"/><path d="M-9,-9H2V1.6H-9Z" fill="#1E88E5"/><path d="M-6.3,-5.7H1M-6.3,-3H1M-6.3,-0.3H1" stroke="#cfe6fb" stroke-width="1.2" stroke-dasharray="1.4 1.5"/></g></g>
<g transform="translate(262.51,523.2)"><circle r="10.7" fill="#fff" stroke="#E81E3C" stroke-width="1.5"/><g clip-path="url(#fc)"><path d="M-9,-7H9M-9,-0.4H9M-9,6.2H9" stroke="#E8311F" stroke-width="3.4"/><path d="M-9,-9H2V1.6H-9Z" fill="#1E88E5"/><path d="M-6.3,-5.7H1M-6.3,-3H1M-6.3,-0.3H1" stroke="#cfe6fb" stroke-width="1.2" stroke-dasharray="1.4 1.5"/></g></g>
<g transform="translate(220.96,523.2)"><circle r="10.7" fill="#fff" stroke="#E81E3C" stroke-width="1.5"/><g clip-path="url(#fc)"><path d="M-9,-7H9M-9,-0.4H9M-9,6.2H9" stroke="#E8311F" stroke-width="3.4"/><path d="M-9,-9H2V1.6H-9Z" fill="#1E88E5"/><path d="M-6.3,-5.7H1M-6.3,-3H1M-6.3,-0.3H1" stroke="#cfe6fb" stroke-width="1.2" stroke-dasharray="1.4 1.5"/></g></g>
<g transform="translate(210.57,523.2)"><circle r="10.7" fill="#fff" stroke="#E81E3C" stroke-width="1.5"/><g clip-path="url(#fc)"><path d="M-9,-7H9M-9,-0.4H9M-9,6.2H9" stroke="#E8311F" stroke-width="3.4"/><path d="M-9,-9H2V1.6H-9Z" fill="#1E88E5"/><path d="M-6.3,-5.7H1M-6.3,-3H1M-6.3,-0.3H1" stroke="#cfe6fb" stroke-width="1.2" stroke-dasharray="1.4 1.5"/></g></g>
<g transform="translate(189.80,523.2)"><circle r="10.7" fill="#fff" stroke="#E81E3C" stroke-width="1.5"/><g clip-path="url(#fc)"><path d="M-9,-7H9M-9,-0.4H9M-9,6.2H9" stroke="#E8311F" stroke-width="3.4"/><path d="M-9,-9H2V1.6H-9Z" fill="#1E88E5"/><path d="M-6.3,-5.7H1M-6.3,-3H1M-6.3,-0.3H1" stroke="#cfe6fb" stroke-width="1.2" stroke-dasharray="1.4 1.5"/></g></g>
<g transform="translate(179.41,523.2)"><circle r="10.7" fill="#fff" stroke="#E81E3C" stroke-width="1.5"/><g clip-path="url(#fc)"><path d="M-9,-7H9M-9,-0.4H9M-9,6.2H9" stroke="#E8311F" stroke-width="3.4"/><path d="M-9,-9H2V1.6H-9Z" fill="#1E88E5"/><path d="M-6.3,-5.7H1M-6.3,-3H1M-6.3,-0.3H1" stroke="#cfe6fb" stroke-width="1.2" stroke-dasharray="1.4 1.5"/></g></g>
<g transform="translate(169.02,523.2)"><circle r="10.7" fill="#fff" stroke="#E81E3C" stroke-width="1.5"/><g clip-path="url(#fc)"><path d="M-9,-7H9M-9,-0.4H9M-9,6.2H9" stroke="#E8311F" stroke-width="3.4"/><path d="M-9,-9H2V1.6H-9Z" fill="#1E88E5"/><path d="M-6.3,-5.7H1M-6.3,-3H1M-6.3,-0.3H1" stroke="#cfe6fb" stroke-width="1.2" stroke-dasharray="1.4 1.5"/></g></g>
<g transform="translate(158.63,523.2)"><circle r="10.7" fill="#fff" stroke="#E81E3C" stroke-width="1.5"/><g clip-path="url(#fc)"><path d="M-9,-7H9M-9,-0.4H9M-9,6.2H9" stroke="#E8311F" stroke-width="3.4"/><path d="M-9,-9H2V1.6H-9Z" fill="#1E88E5"/><path d="M-6.3,-5.7H1M-6.3,-3H1M-6.3,-0.3H1" stroke="#cfe6fb" stroke-width="1.2" stroke-dasharray="1.4 1.5"/></g></g>
<g transform="translate(137.86,523.2)"><circle r="10.7" fill="#fff" stroke="#E81E3C" stroke-width="1.5"/><g clip-path="url(#fc)"><path d="M-9,-7H9M-9,-0.4H9M-9,6.2H9" stroke="#E8311F" stroke-width="3.4"/><path d="M-9,-9H2V1.6H-9Z" fill="#1E88E5"/><path d="M-6.3,-5.7H1M-6.3,-3H1M-6.3,-0.3H1" stroke="#cfe6fb" stroke-width="1.2" stroke-dasharray="1.4 1.5"/></g></g>
<g transform="translate(127.47,523.2)"><circle r="10.7" fill="#fff" stroke="#E81E3C" stroke-width="1.5"/><g clip-path="url(#fc)"><path d="M-9,-7H9M-9,-0.4H9M-9,6.2H9" stroke="#E8311F" stroke-width="3.4"/><path d="M-9,-9H2V1.6H-9Z" fill="#1E88E5"/><path d="M-6.3,-5.7H1M-6.3,-3H1M-6.3,-0.3H1" stroke="#cfe6fb" stroke-width="1.2" stroke-dasharray="1.4 1.5"/></g></g>
<g transform="translate(117.08,523.2)"><circle r="10.7" fill="#fff" stroke="#E81E3C" stroke-width="1.5"/><g clip-path="url(#fc)"><path d="M-9,-7H9M-9,-0.4H9M-9,6.2H9" stroke="#E8311F" stroke-width="3.4"/><path d="M-9,-9H2V1.6H-9Z" fill="#1E88E5"/><path d="M-6.3,-5.7H1M-6.3,-3H1M-6.3,-0.3H1" stroke="#cfe6fb" stroke-width="1.2" stroke-dasharray="1.4 1.5"/></g></g>
<g transform="translate(106.69,523.2)"><circle r="10.7" fill="#fff" stroke="#E81E3C" stroke-width="1.5"/><g clip-path="url(#fc)"><path d="M-9,-7H9M-9,-0.4H9M-9,6.2H9" stroke="#E8311F" stroke-width="3.4"/><path d="M-9,-9H2V1.6H-9Z" fill="#1E88E5"/><path d="M-6.3,-5.7H1M-6.3,-3H1M-6.3,-0.3H1" stroke="#cfe6fb" stroke-width="1.2" stroke-dasharray="1.4 1.5"/></g></g>
<g transform="translate(85.92,523.2)"><circle r="10.7" fill="#fff" stroke="#E81E3C" stroke-width="1.5"/><g clip-path="url(#fc)"><path d="M-9,-7H9M-9,-0.4H9M-9,6.2H9" stroke="#E8311F" stroke-width="3.4"/><path d="M-9,-9H2V1.6H-9Z" fill="#1E88E5"/><path d="M-6.3,-5.7H1M-6.3,-3H1M-6.3,-0.3H1" stroke="#cfe6fb" stroke-width="1.2" stroke-dasharray="1.4 1.5"/></g></g>
<g transform="translate(75.53,523.2)"><circle r="10.7" fill="#fff" stroke="#E81E3C" stroke-width="1.5"/><g clip-path="url(#fc)"><path d="M-9,-7H9M-9,-0.4H9M-9,6.2H9" stroke="#E8311F" stroke-width="3.4"/><path d="M-9,-9H2V1.6H-9Z" fill="#1E88E5"/><path d="M-6.3,-5.7H1M-6.3,-3H1M-6.3,-0.3H1" stroke="#cfe6fb" stroke-width="1.2" stroke-dasharray="1.4 1.5"/></g></g>
<g transform="translate(54.75,523.2)"><circle r="10.7" fill="#fff" stroke="#E81E3C" stroke-width="1.5"/><g clip-path="url(#fc)"><path d="M-9,-7H9M-9,-0.4H9M-9,6.2H9" stroke="#E8311F" stroke-width="3.4"/><path d="M-9,-9H2V1.6H-9Z" fill="#1E88E5"/><path d="M-6.3,-5.7H1M-6.3,-3H1M-6.3,-0.3H1" stroke="#cfe6fb" stroke-width="1.2" stroke-dasharray="1.4 1.5"/></g></g>
<g transform="translate(33.98,523.2)"><circle r="10.7" fill="#fff" stroke="#E81E3C" stroke-width="1.5"/><g clip-path="url(#fc)"><path d="M-9,-7H9M-9,-0.4H9M-9,6.2H9" stroke="#E8311F" stroke-width="3.4"/><path d="M-9,-9H2V1.6H-9Z" fill="#1E88E5"/><path d="M-6.3,-5.7H1M-6.3,-3H1M-6.3,-0.3H1" stroke="#cfe6fb" stroke-width="1.2" stroke-dasharray="1.4 1.5"/></g></g>
<g transform="translate(23.59,523.2)"><circle r="10.7" fill="#fff" stroke="#E81E3C" stroke-width="1.5"/><g clip-path="url(#fc)"><path d="M-9,-7H9M-9,-0.4H9M-9,6.2H9" stroke="#E8311F" stroke-width="3.4"/><path d="M-9,-9H2V1.6H-9Z" fill="#1E88E5"/><path d="M-6.3,-5.7H1M-6.3,-3H1M-6.3,-0.3H1" stroke="#cfe6fb" stroke-width="1.2" stroke-dasharray="1.4 1.5"/></g></g>
<g transform="translate(13.20,523.2)"><circle r="10.7" fill="#fff" stroke="#E81E3C" stroke-width="1.5"/><g clip-path="url(#fc)"><path d="M-9,-7H9M-9,-0.4H9M-9,6.2H9" stroke="#E8311F" stroke-width="3.4"/><path d="M-9,-9H2V1.6H-9Z" fill="#1E88E5"/><path d="M-6.3,-5.7H1M-6.3,-3H1M-6.3,-0.3H1" stroke="#cfe6fb" stroke-width="1.2" stroke-dasharray="1.4 1.5"/></g></g>
<g transform="translate(833.85,497.2)"><circle r="10.7" fill="#fff" stroke="#E81E3C" stroke-width="1.5"/><g clip-path="url(#fc)"><path d="M-9,-9H9V9H-9Z" fill="#1344B0"/><path d="M-9,-9H0V-0.5H-9Z" fill="#f2d6dc"/><path d="M-9,-6.8H0M-6.8,-9V-0.5M-6,-6L-1,-1.2" stroke="#E8311F" stroke-width="1.6" fill="none"/><g fill="#dfe8fa"><circle cx="-3.8" cy="4" r="1.2"/><circle cx="3.2" cy="-3.2" r="0.8"/><circle cx="5.3" cy="-0.8" r="0.7"/><circle cx="3.6" cy="4.2" r="0.8"/><circle cx="1.2" cy="0.2" r="0.6"/></g></g></g>
<g transform="translate(792.30,497.2)"><circle r="10.7" fill="#fff" stroke="#E81E3C" stroke-width="1.5"/><g clip-path="url(#fc)"><path d="M-9,-9H9V9H-9Z" fill="#1344B0"/><path d="M-9,-9H0V-0.5H-9Z" fill="#f2d6dc"/><path d="M-9,-6.8H0M-6.8,-9V-0.5M-6,-6L-1,-1.2" stroke="#E8311F" stroke-width="1.6" fill="none"/><g fill="#dfe8fa"><circle cx="-3.8" cy="4" r="1.2"/><circle cx="3.2" cy="-3.2" r="0.8"/><circle cx="5.3" cy="-0.8" r="0.7"/><circle cx="3.6" cy="4.2" r="0.8"/><circle cx="1.2" cy="0.2" r="0.6"/></g></g></g>
<g transform="translate(418.33,497.2)"><circle r="10.7" fill="#fff" stroke="#E81E3C" stroke-width="1.5"/><g clip-path="url(#fc)"><path d="M-9,-9H9V9H-9Z" fill="#1344B0"/><path d="M-9,-9H0V-0.5H-9Z" fill="#f2d6dc"/><path d="M-9,-6.8H0M-6.8,-9V-0.5M-6,-6L-1,-1.2" stroke="#E8311F" stroke-width="1.6" fill="none"/><g fill="#dfe8fa"><circle cx="-3.8" cy="4" r="1.2"/><circle cx="3.2" cy="-3.2" r="0.8"/><circle cx="5.3" cy="-0.8" r="0.7"/><circle cx="3.6" cy="4.2" r="0.8"/><circle cx="1.2" cy="0.2" r="0.6"/></g></g></g>
<g transform="translate(314.45,497.2)"><circle r="10.7" fill="#fff" stroke="#E81E3C" stroke-width="1.5"/><g clip-path="url(#fc)"><path d="M-9,-9H9V9H-9Z" fill="#1344B0"/><path d="M-9,-9H0V-0.5H-9Z" fill="#f2d6dc"/><path d="M-9,-6.8H0M-6.8,-9V-0.5M-6,-6L-1,-1.2" stroke="#E8311F" stroke-width="1.6" fill="none"/><g fill="#dfe8fa"><circle cx="-3.8" cy="4" r="1.2"/><circle cx="3.2" cy="-3.2" r="0.8"/><circle cx="5.3" cy="-0.8" r="0.7"/><circle cx="3.6" cy="4.2" r="0.8"/><circle cx="1.2" cy="0.2" r="0.6"/></g></g></g>
<g transform="translate(158.63,497.2)"><circle r="10.7" fill="#fff" stroke="#E81E3C" stroke-width="1.5"/><g clip-path="url(#fc)"><path d="M-9,-9H9V9H-9Z" fill="#1344B0"/><path d="M-9,-9H0V-0.5H-9Z" fill="#f2d6dc"/><path d="M-9,-6.8H0M-6.8,-9V-0.5M-6,-6L-1,-1.2" stroke="#E8311F" stroke-width="1.6" fill="none"/><g fill="#dfe8fa"><circle cx="-3.8" cy="4" r="1.2"/><circle cx="3.2" cy="-3.2" r="0.8"/><circle cx="5.3" cy="-0.8" r="0.7"/><circle cx="3.6" cy="4.2" r="0.8"/><circle cx="1.2" cy="0.2" r="0.6"/></g></g></g>
<g transform="translate(127.47,497.2)"><circle r="10.7" fill="#fff" stroke="#E81E3C" stroke-width="1.5"/><g clip-path="url(#fc)"><path d="M-9,-9H9V9H-9Z" fill="#1344B0"/><path d="M-9,-9H0V-0.5H-9Z" fill="#f2d6dc"/><path d="M-9,-6.8H0M-6.8,-9V-0.5M-6,-6L-1,-1.2" stroke="#E8311F" stroke-width="1.6" fill="none"/><g fill="#dfe8fa"><circle cx="-3.8" cy="4" r="1.2"/><circle cx="3.2" cy="-3.2" r="0.8"/><circle cx="5.3" cy="-0.8" r="0.7"/><circle cx="3.6" cy="4.2" r="0.8"/><circle cx="1.2" cy="0.2" r="0.6"/></g></g></g>
<g transform="translate(117.08,497.2)"><circle r="10.7" fill="#fff" stroke="#E81E3C" stroke-width="1.5"/><g clip-path="url(#fc)"><path d="M-9,-9H9V9H-9Z" fill="#1344B0"/><path d="M-9,-9H0V-0.5H-9Z" fill="#f2d6dc"/><path d="M-9,-6.8H0M-6.8,-9V-0.5M-6,-6L-1,-1.2" stroke="#E8311F" stroke-width="1.6" fill="none"/><g fill="#dfe8fa"><circle cx="-3.8" cy="4" r="1.2"/><circle cx="3.2" cy="-3.2" r="0.8"/><circle cx="5.3" cy="-0.8" r="0.7"/><circle cx="3.6" cy="4.2" r="0.8"/><circle cx="1.2" cy="0.2" r="0.6"/></g></g></g>
<g transform="translate(54.75,497.2)"><circle r="10.7" fill="#fff" stroke="#E81E3C" stroke-width="1.5"/><g clip-path="url(#fc)"><path d="M-9,-9H9V9H-9Z" fill="#1344B0"/><path d="M-9,-9H0V-0.5H-9Z" fill="#f2d6dc"/><path d="M-9,-6.8H0M-6.8,-9V-0.5M-6,-6L-1,-1.2" stroke="#E8311F" stroke-width="1.6" fill="none"/><g fill="#dfe8fa"><circle cx="-3.8" cy="4" r="1.2"/><circle cx="3.2" cy="-3.2" r="0.8"/><circle cx="5.3" cy="-0.8" r="0.7"/><circle cx="3.6" cy="4.2" r="0.8"/><circle cx="1.2" cy="0.2" r="0.6"/></g></g></g>
</g>
<text class="mon" x="96.3" y="555.3">Sep</text>
<text class="mon" x="324.8" y="555.3">Oct</text>
<text class="mon" x="563.8" y="555.3">Nov</text>
<text class="mon" x="771.5" y="555.3">Dec</text>
<path d="M0,0 L379.5,0 L305.5,82.3 Q291,98.3 270,98.3 L0,98.3 Z" fill="#D9D9D9"/>
<path d="M1200,531.2 L931,531.2 Q910,531.2 896.5,546 L821.5,628 L1200,628 Z" fill="#D9D9D9"/>
<g fill="#131722"><path d="M12.5,588.8 H25 V603 H18.7 V595 H12.5 Z"/><circle cx="28.7" cy="591.6" r="2.6"/><path d="M35.8,588.8 H43 L36.4,603 H29.6 Z"/></g>
<g transform="translate(910,538) scale(0.13369)">
<path d="M72,567 L130,230 Q152,67 300,67 L488,67 L465,167 L330,167 Q262,167 250,230 L188,567 Z" fill="#3E4247"/>
<path d="M310,262 L447,262 L290,365 Z" fill="#3E4247"/>
<path d="M447,262 L428,365 L290,365 Z" fill="#FFE62B"/>
<path d="M550,67 L665,67 L610,380 Q578,567 430,567 L248,567 L268,462 L430,462 Q478,462 487,420 Z" fill="#FFE62B"/>
</g>
</svg>
<style>.lt{position:absolute;left:0;top:0;margin:0;white-space:nowrap;}.lt span{display:inline-block;width:0;transform-origin:0 0;}</style>
<div class="lt" id="tvl" style="font-family:'Liberation Serif',serif;font-weight:bold;font-size:47.0px;line-height:47.0px;color:#000;-webkit-text-stroke:0.3px #000;text-shadow:1px 0 #000,2px 0 #000,-1px 0 #000,-2px 0 #000;"><span style="transform:translate(16.9px,25.05px) scale(0.903,0.981)">T</span><span style="transform:translate(49.63px,18.98px) scale(0.926,1.136)">r</span><span style="transform:translate(72.0px,18.06px) scale(1.148,1.173)">a</span><span style="transform:translate(106.0px,26.14px) scale(1.071,0.966)">d</span><span style="transform:translate(142.0px,18.06px) scale(1.15,1.173)">e</span><span style="transform:translate(173.63px,18.98px) scale(0.926,1.136)">r</span><span style="transform:translate(197.0px,24.8px) scale(1.0,1.012)">V</span><span style="transform:translate(236.8px,25.15px) scale(0.8,0.978)">i</span><span style="transform:translate(253.3px,18.06px) scale(1.155,1.173)">e</span><span style="transform:translate(282.41px,17.87px) scale(1.111,1.178)">t</span></div>
<div id="tvw">TradingView</div>
<div class="lt" id="ffl" style="font-family:'Liberation Sans',sans-serif;font-weight:normal;font-size:80.0px;line-height:80.0px;color:#3E4247;-webkit-text-stroke:0.6px #3E4247;"><span style="transform:translate(999.42px,538.65px) scale(1.25,1.095);clip-path:polygon(6.7px -20px,200px -20px,200px 200px,6.7px 200px);">f</span><span style="transform:translate(1026.9px,543.61px) scale(1.0,1.021);">i</span><span style="transform:translate(1036.46px,542.82px) scale(1.107,1.033);">n</span><span style="transform:translate(1075.22px,538.65px) scale(1.25,1.095);clip-path:polygon(6.7px -20px,200px -20px,200px 200px,6.7px 200px);">f</span><span style="transform:translate(1102.47px,543.61px) scale(1.025,1.021);">i</span><span style="transform:translate(1112.77px,542.82px) scale(1.106,1.033);">n</span></div>
</body></html>
